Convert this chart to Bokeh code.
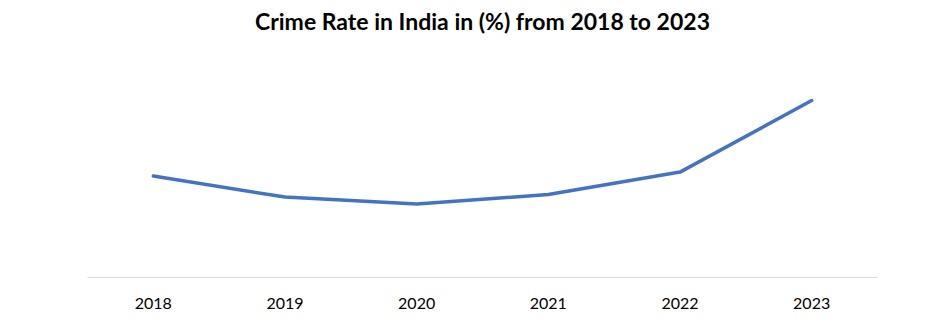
from bokeh.plotting import figure
from bokeh.models import Range1d, FactorRange, Label
from bokeh.embed import file_html
from bokeh.resources import INLINE

years = ["2018", "2019", "2020", "2021", "2022", "2023"]
crime_rate = [5.07, 4.02, 3.68, 4.15, 5.27, 8.85]
title_text = "Crime Rate in India in (%) from 2018 to 2023"

p = figure(width=936, height=326, output_backend="svg", toolbar_location=None,
           x_range=FactorRange(*years, range_padding=0), y_range=Range1d(0, 13.85),
           min_border_left=87, min_border_right=59, min_border_top=0, min_border_bottom=49)

# title placed inside the (full-height) frame: x=3.0 is the centre of the 6 categories
title = Label(x=3.0, y=12.85, text=title_text,
              text_align="center", text_baseline="middle", text_font="Lato",
              text_font_style="bold", text_font_size="23px", text_color="#000000")
p.add_layout(title)

p.line(years, crime_rate, line_color="#4472C4", line_width=3.5, line_join="round", line_cap="round")

p.yaxis.visible = False
p.xgrid.visible = False
p.ygrid.visible = False
p.outline_line_color = None

ax = p.xaxis[0]
ax.axis_line_color = "#d9d9d9"
ax.axis_line_width = 1
ax.major_tick_line_color = None
ax.minor_tick_line_color = None
ax.major_label_text_font = "Lato"
ax.major_label_text_font_size = "16px"
ax.major_label_text_color = "#000000"
ax.major_label_standoff = 14

open("out.html", "w").write(file_html(p, INLINE))
